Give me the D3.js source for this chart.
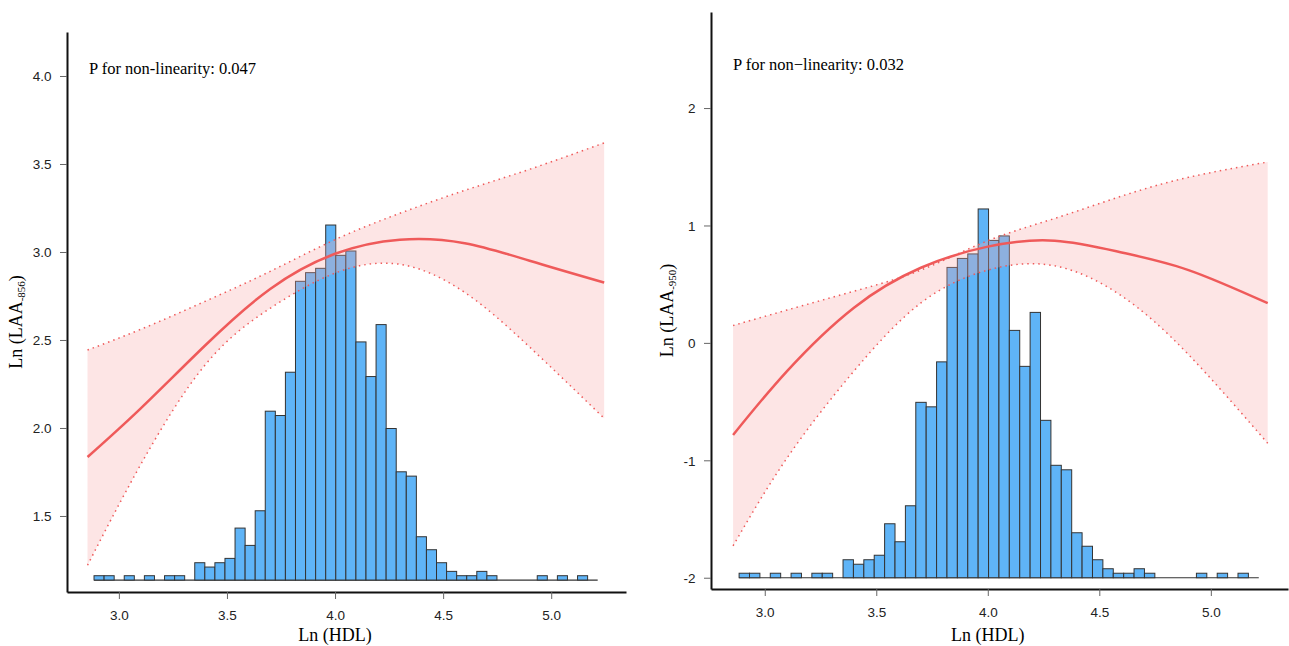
<!DOCTYPE html>
<html>
<head>
<meta charset="utf-8">
<script src="https://cdn.jsdelivr.net/npm/d3@7"></script>
<style>
  body { margin: 0; background: #fff; }
  .tick text { font-family: "Liberation Sans", Arial, sans-serif; font-size: 13.5px; fill: #222; }
  .tick line { stroke: #666; }
  .serif { font-family: "Liberation Serif", "Times New Roman", serif; }
</style>
</head>
<body>
<svg id="vis" width="1289" height="646"></svg>
<script>
// histogram of Ln(HDL): 50 bins from 2.885, width 0.0466
var binStart = 2.885, binWidth = 0.0466;
var binCounts = [1,1,0,1,0,1,0,1,1,0, 4,3,4,5,12,8,16,39,38,48, 69,71,72,82,75,76,55,47,59,35,
                 25,24,10,7,4,2,1,1,2,1, 0,0,0,0,1,0,1,0,1,0];

// restricted cubic spline fit, panel A (LAA-856)
var xsA     = [2.855, 3.1, 3.4, 3.7, 4.0, 4.3, 4.6, 4.9, 5.245];
var fitA    = [1.835, 2.11, 2.47, 2.79, 2.99, 3.07, 3.05, 2.95, 2.826];
var upperA  = [2.443, 2.56, 2.72, 2.89, 3.07, 3.22, 3.35, 3.47, 3.62];
var lowerA  = [1.22, 1.79, 2.36, 2.68, 2.88, 2.93, 2.77, 2.46, 2.055];

// panel B (LAA-950)
var xsB     = [2.858, 3.1, 3.4, 3.7, 4.0, 4.3, 4.6, 4.9, 5.255];
var fitB    = [-0.784, -0.24, 0.30, 0.64, 0.82, 0.87, 0.77, 0.62, 0.338];
var upperB  = [0.148, 0.28, 0.44, 0.62, 0.87, 1.06, 1.25, 1.41, 1.54];
var lowerB  = [-1.728, -0.98, -0.24, 0.34, 0.62, 0.656, 0.40, -0.10, -0.855];

var xTicks = [3.0, 3.5, 4.0, 4.5, 5.0];
var yTicksA = [1.5, 2.0, 2.5, 3.0, 3.5, 4.0];
var yTicksB = [-2, -1, 0, 1, 2];

var panels = [
  { left: 67, right: 626, top: 32, bottom: 592, xDom: [2.76, 5.346], yDom: [1.068, 4.25],
    base: 1.136, perCount: 0.0246, xs: xsA, fit: fitA, up: upperA, lo: lowerA,
    yTicks: yTicksA, fmt: d3.format(".1f"), sub: "-856", p: "P for non-linearity: 0.047",
    labelX: 22, pY: 74 },
  { left: 711, right: 1288, top: 12, bottom: 589, xDom: [2.759, 5.346], yDom: [-2.096, 2.818],
    base: -2, perCount: 0.0383, xs: xsB, fit: fitB, up: upperB, lo: lowerB,
    yTicks: yTicksB, fmt: function(d) { return String(d); }, sub: "-950", p: "P for non\u2212linearity: 0.032",
    labelX: 673, pY: 70 }
];

var svg = d3.select("#vis");
var bins = binCounts.map(function(c, i) { return { x0: binStart + i * binWidth, x1: binStart + (i + 1) * binWidth, n: c }; });

panels.forEach(function(p) {
  var x = d3.scaleLinear().domain(p.xDom).range([p.left, p.right]);
  var y = d3.scaleLinear().domain(p.yDom).range([p.bottom, p.top]);
  var g = svg.append("g");

  // histogram baseline + bars
  g.append("line")
    .attr("x1", x(bins[0].x0)).attr("x2", x(bins[bins.length - 1].x1))
    .attr("y1", y(p.base)).attr("y2", y(p.base))
    .attr("stroke", "#333").attr("stroke-width", 1.2);
  g.selectAll("rect").data(bins.filter(function(b) { return b.n > 0; })).join("rect")
    .attr("x", function(b) { return x(b.x0); })
    .attr("width", function(b) { return x(b.x1) - x(b.x0); })
    .attr("y", function(b) { return y(p.base + b.n * p.perCount); })
    .attr("height", function(b) { return y(p.base) - y(p.base + b.n * p.perCount); })
    .attr("fill", "#5fb4f7").attr("stroke", "#333").attr("stroke-width", 1);

  var pts = p.xs.map(function(v, i) { return { x: v, f: p.fit[i], u: p.up[i], l: p.lo[i] }; });
  var curve = d3.curveNatural;
  g.append("path").datum(pts)
    .attr("d", d3.area().curve(curve).x(function(d) { return x(d.x); })
      .y0(function(d) { return y(d.l); }).y1(function(d) { return y(d.u); }))
    .attr("fill", "rgba(248,170,170,0.3)");
  ["u", "l"].forEach(function(k) {
    g.append("path").datum(pts)
      .attr("d", d3.line().curve(curve).x(function(d) { return x(d.x); }).y(function(d) { return y(d[k]); }))
      .attr("fill", "none").attr("stroke", "#ef5a5a").attr("stroke-width", 1.5)
      .attr("stroke-dasharray", "1.5,4");
  });
  g.append("path").datum(pts)
    .attr("d", d3.line().curve(curve).x(function(d) { return x(d.x); }).y(function(d) { return y(d.f); }))
    .attr("fill", "none").attr("stroke", "#ef5a5a").attr("stroke-width", 2.5);

  // axes
  var gx = g.append("g").attr("transform", "translate(0," + p.bottom + ")")
    .call(d3.axisBottom(x).tickValues(xTicks).tickFormat(d3.format(".1f")).tickSize(7).tickSizeOuter(0));
  gx.select(".domain").attr("stroke", "#111").attr("stroke-width", 2);
  gx.selectAll(".tick text").attr("dy", "1.35em");
  var gy = g.append("g").attr("transform", "translate(" + p.left + ",0)")
    .call(d3.axisLeft(y).tickValues(p.yTicks).tickFormat(p.fmt).tickSize(7).tickSizeOuter(0));
  gy.select(".domain").attr("stroke", "#111").attr("stroke-width", 2);
  gy.selectAll(".tick text").attr("dx", "-0.4em").attr("dy", "0.35em");

  g.append("text").attr("class", "serif")
    .attr("x", (x(3.0) + x(5.0)) / 2).attr("y", 641).attr("text-anchor", "middle")
    .attr("font-size", 18).text("Ln (HDL)");

  var yl = g.append("text").attr("class", "serif").attr("font-size", 18).attr("text-anchor", "middle")
    .attr("transform", "translate(" + p.labelX + "," + ((p.top + p.bottom) / 2 + 10) + ") rotate(-90)");
  yl.append("tspan").text("Ln (LAA");
  yl.append("tspan").attr("font-size", 11).attr("dy", 3).text(p.sub);
  yl.append("tspan").attr("dy", -3).text(")");

  g.append("text").attr("class", "serif").attr("x", p.left + 22).attr("y", p.pY)
    .attr("font-size", 16.5).text(p.p);
});
</script>
</body>
</html>
